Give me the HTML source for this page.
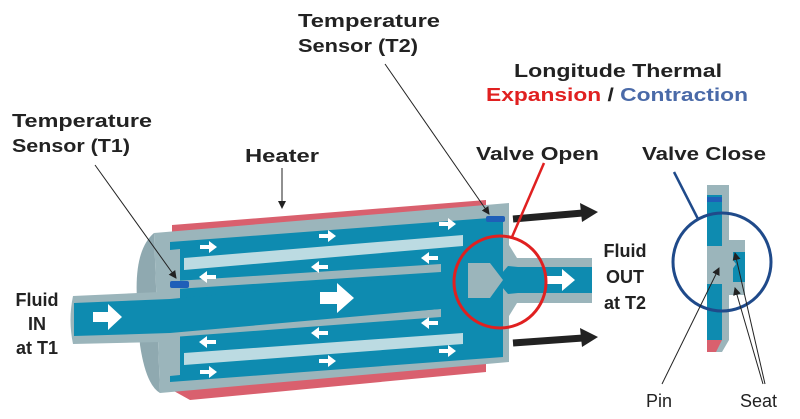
<!DOCTYPE html>
<html><head><meta charset="utf-8"><style>
html,body{margin:0;padding:0;background:#fff;}
svg{display:block;}
text{font-family:"Liberation Sans",sans-serif;font-weight:bold;font-size:18px;fill:#222;}
</style></head><body>
<svg width="800" height="419" viewBox="0 0 800 419" xmlns="http://www.w3.org/2000/svg">
<defs>
<marker id="ah" markerWidth="8" markerHeight="8" refX="7" refY="4" orient="auto" markerUnits="userSpaceOnUse"><path d="M0,0 L8,4 L0,8 Z" fill="#222"/></marker>
<g id="wr"><path d="M-8,-2 h9 v-4 l8,6 l-8,6 v-4 h-9 z" fill="#fff"/></g>
<g id="wl"><path d="M8,-2 h-9 v-4 l-8,6 l8,6 v-4 h9 z" fill="#fff"/></g>
</defs>
<!-- heater -->
<path d="M172,225 L486,200 L486,372 L190,400 L172,390 Z" fill="#d9606e"/>
<!-- left face -->
<path d="M154,233 Q134,250 137,300 L140,345 Q146,385 160,393 Z" fill="#8fa9b0"/>
<!-- housing -->
<path d="M154,233 L509,203 L509,362 L160,393 Z" fill="#9bb5bb"/>
<!-- cavity -->
<path d="M170,242 L503,217 L503,357 L170,382 Z" fill="#0e8bb0"/>
<path d="M170,250 L180,249 L180,375 L170,376 Z" fill="#9bb5bb"/>
<!-- light bars -->
<path d="M184,258 L463,235 L463,246 L184,270 Z" fill="#bcdbe2"/>
<path d="M184,353 L463,333 L463,344 L184,365 Z" fill="#bcdbe2"/>
<!-- central tube walls -->
<path d="M160,282 L441,264 L441,272 L160,290 Z" fill="#9bb5bb"/>
<path d="M160,330 L441,309 L441,317 L160,338 Z" fill="#9bb5bb"/>
<!-- inlet pipe -->
<path d="M73,296 L160,292 L160,342 L73,344 Q68,320 73,296 Z" fill="#9bb5bb"/>
<path d="M74,303 L170,299 L440,274 L440,309 L170,333 L74,336 Z" fill="#0e8bb0"/>
<!-- outlet -->
<path d="M509,245 L517,258 L592,258 L592,303 L517,303 L509,316 Z" fill="#9bb5bb"/>
<path d="M496,280 L508,266 L518,267 L592,267 L592,293 L518,293 L508,294 Z" fill="#0e8bb0"/>
<!-- pin -->
<path d="M468,263 L490,263 L503,280 L490,298 L468,298 Z" fill="#9bb5bb"/>
<!-- sensors -->
<rect x="170" y="281" width="19" height="7" rx="2" fill="#1f5fb8"/>
<rect x="486" y="216" width="19" height="6" rx="2" fill="#1f5fb8"/>
<!-- small arrows -->
<use href="#wr" x="208" y="247"/><use href="#wr" x="327" y="236"/><use href="#wr" x="447" y="224"/>
<use href="#wl" x="208" y="277"/><use href="#wl" x="320" y="267"/><use href="#wl" x="430" y="258"/>
<use href="#wl" x="208" y="342"/><use href="#wl" x="320" y="333"/><use href="#wl" x="430" y="323"/>
<use href="#wr" x="208" y="372"/><use href="#wr" x="327" y="361"/><use href="#wr" x="447" y="351"/>
<path d="M93,312 h15 v-8 l14,13 l-14,13 v-8 h-15 z" fill="#fff"/>
<path d="M320,292 h17 v-9 l17,15 l-17,15 v-9 h-17 z" fill="#fff"/>
<path d="M547,276 h15 v-7 l13,11 l-13,11 v-7 h-15 z" fill="#fff"/>
<!-- black arrows -->
<path d="M513,219 L583,213" stroke="#222" stroke-width="7"/><path d="M580,203 L598,212 L582,222 Z" fill="#222"/>
<path d="M513,343 L583,338" stroke="#222" stroke-width="7"/><path d="M580,328 L598,337 L582,347 Z" fill="#222"/>
<!-- red circle -->
<circle cx="500" cy="282" r="46" fill="none" stroke="#e02020" stroke-width="3"/>
<line x1="512" y1="237" x2="544" y2="163" stroke="#e02020" stroke-width="2.5"/>
<!-- detail -->
<path d="M707,185 L729,185 L729,240 L745,240 L745,295 L729,295 L729,340 L722,352 L707,352 Z" fill="#9bb5bb"/>
<path d="M707,340 L722,340 L716,352 L707,352 Z" fill="#d9606e"/>
<rect x="707" y="195" width="15" height="145" fill="#0e8bb0"/>
<rect x="707" y="197" width="15" height="5" fill="#1f5fb8"/>
<rect x="733" y="252" width="12" height="30" fill="#0e8bb0"/>
<path d="M707,246 L722,246 L736,264 L722,284 L707,284 Z" fill="#9bb5bb"/>
<circle cx="722" cy="262" r="49" fill="none" stroke="#1f4a8a" stroke-width="3"/>
<line x1="698" y1="219" x2="674" y2="172" stroke="#1f4a8a" stroke-width="2.5"/>
<!-- leader lines -->
<line x1="95" y1="165" x2="176" y2="278" stroke="#222" stroke-width="1" marker-end="url(#ah)"/>
<line x1="282" y1="168" x2="282" y2="208" stroke="#222" stroke-width="1" marker-end="url(#ah)"/>
<line x1="385" y1="64" x2="489" y2="214" stroke="#222" stroke-width="1" marker-end="url(#ah)"/>
<line x1="662" y1="384" x2="719" y2="268" stroke="#222" stroke-width="1" marker-end="url(#ah)"/>
<line x1="765" y1="384" x2="735" y2="253" stroke="#222" stroke-width="1" marker-end="url(#ah)"/>
<line x1="763" y1="384" x2="735" y2="288" stroke="#222" stroke-width="1" marker-end="url(#ah)"/>
<!-- labels -->
<text x="298" y="27" textLength="142" lengthAdjust="spacingAndGlyphs">Temperature</text>
<text x="298" y="52" textLength="120" lengthAdjust="spacingAndGlyphs">Sensor (T2)</text>
<text x="12" y="127" textLength="140" lengthAdjust="spacingAndGlyphs">Temperature</text>
<text x="12" y="152" textLength="118" lengthAdjust="spacingAndGlyphs">Sensor (T1)</text>
<text x="245" y="162" textLength="74" lengthAdjust="spacingAndGlyphs">Heater</text>
<text x="514" y="77" textLength="208" lengthAdjust="spacingAndGlyphs">Longitude Thermal</text>
<text x="486" y="101" textLength="262" lengthAdjust="spacingAndGlyphs"><tspan fill="#e02020">Expansion</tspan> / <tspan fill="#4a6aa8">Contraction</tspan></text>
<text x="476" y="160" textLength="123" lengthAdjust="spacingAndGlyphs" fill="#e02020">Valve Open</text>
<text x="642" y="160" textLength="124" lengthAdjust="spacingAndGlyphs" fill="#4a6aa8">Valve Close</text>
<text x="37" y="306" text-anchor="middle">Fluid</text>
<text x="37" y="330" text-anchor="middle">IN</text>
<text x="37" y="354" text-anchor="middle">at T1</text>
<text x="625" y="257" text-anchor="middle">Fluid</text>
<text x="625" y="283" text-anchor="middle">OUT</text>
<text x="625" y="309" text-anchor="middle">at T2</text>
<text x="646" y="407" style="font-weight:normal">Pin</text>
<text x="740" y="407" style="font-weight:normal">Seat</text>
</svg>
</body></html>
